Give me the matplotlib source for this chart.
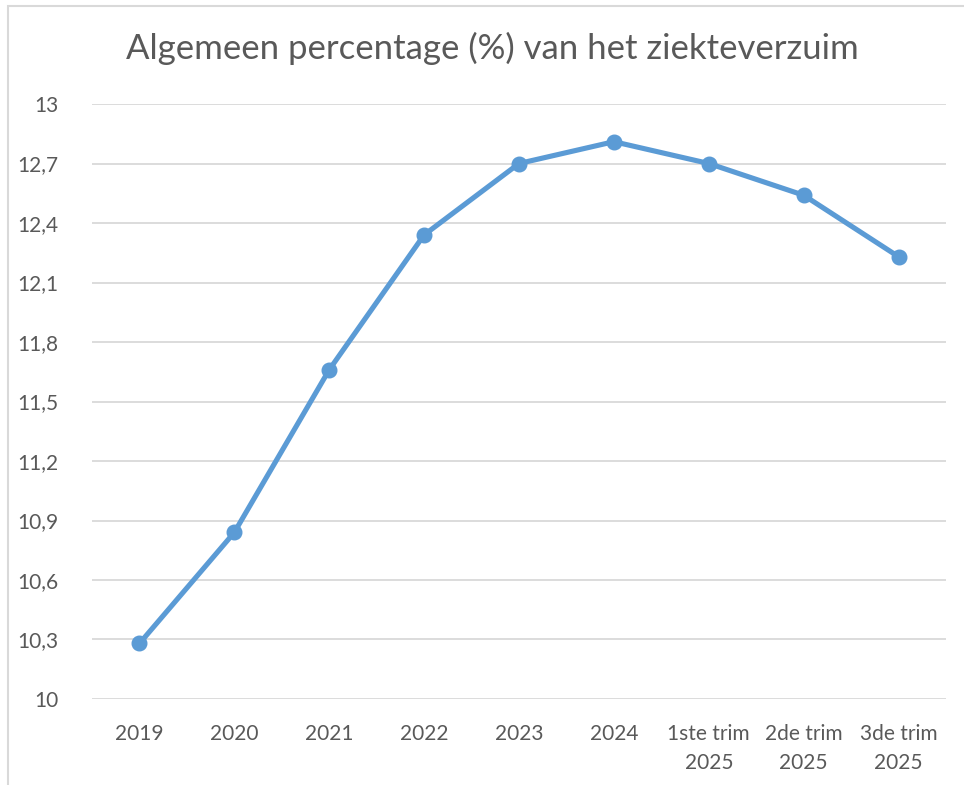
import matplotlib
matplotlib.use("Agg")
import matplotlib.pyplot as plt
from matplotlib.patches import Rectangle

categories = ["2019", "2020", "2021", "2022", "2023", "2024",
              "1ste trim\n2025", "2de trim\n2025", "3de trim\n2025"]
values = [10.28, 10.84, 11.66, 12.34, 12.70, 12.81, 12.70, 12.54, 12.23]
yticks = [10, 10.3, 10.6, 10.9, 11.2, 11.5, 11.8, 12.1, 12.4, 12.7, 13]
ytick_labels = ["10", "10,3", "10,6", "10,9", "11,2", "11,5", "11,8", "12,1", "12,4", "12,7", "13"]

plt.rcParams['font.family'] = ['Lato', 'DejaVu Sans']
txt = "#595959"
blue = "#5b9bd5"

fig = plt.figure(figsize=(9.64, 7.85), dpi=100)
fig.patches.append(Rectangle((8 / 964, -0.1), 1.2, 0.1 + 1 - 6 / 785,
                             transform=fig.transFigure, fill=False,
                             edgecolor="#d9d9d9", linewidth=1.5))

ax = fig.add_axes([92 / 964, 1 - 699 / 785, (946 - 92) / 964, (699 - 104) / 785])
x = list(range(len(categories)))
ax.plot(x, values, color=blue, linewidth=3.7, marker="o", markersize=10.5,
        zorder=3, solid_capstyle="round")

ax.set_xlim(-0.5, len(categories) - 0.5)
ax.set_ylim(10, 13)
ax.set_yticks(yticks)
ax.set_yticklabels(ytick_labels)
ax.set_xticks(x)
ax.set_xticklabels(categories)
ax.tick_params(axis="both", length=0, labelsize=15, colors=txt)
ax.tick_params(axis="y", pad=24)
ax.tick_params(axis="x", pad=18)
for lab in ax.get_xticklabels():
    lab.set_linespacing(1.55)
ax.grid(axis="y", color="#d9d9d9", linewidth=1.3)
for s in ax.spines.values():
    s.set_visible(False)
ax.set_axisbelow(True)

fig.text(492 / 964, 1 - 48 / 785,
         "Algemeen percentage (%) van het ziekteverzuim",
         ha="center", va="center", fontsize=25, color=txt)

fig.savefig("out.png", dpi=100)
